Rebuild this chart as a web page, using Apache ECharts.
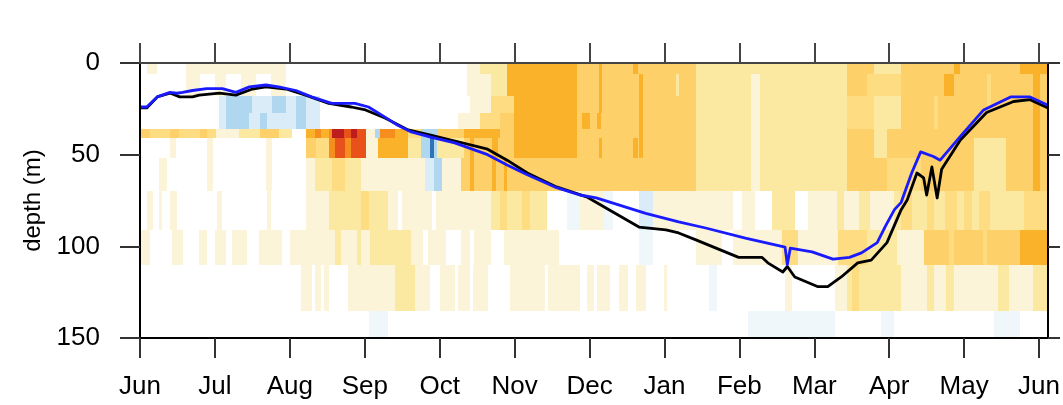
<!DOCTYPE html>
<html>
<head>
<meta charset="utf-8">
<script src="https://cdn.jsdelivr.net/npm/echarts@6/dist/echarts.min.js"></script>
<style>
html, body { margin: 0; padding: 0; background: #ffffff; }
#chart { width: 1063px; height: 405px; }
</style>
</head>
<body>
<div id="chart"></div>
<script>
// Time axis: months since 1 June (one month = 1 unit)
const monthLabels = ['Jun', 'Jul', 'Aug', 'Sep', 'Oct', 'Nov', 'Dec', 'Jan', 'Feb', 'Mar', 'Apr', 'May', 'Jun'];
const monthTicks = [0, 1, 2, 3, 4, 5, 6, 7, 8, 9, 10, 11, 12];
const timeEnd = 12.12;
const depthTicks = [0, 50, 100, 150];

// Depth bands (m) of the anomaly field
const bandEdges = [0, 6, 18, 27, 36, 41, 52, 70, 91, 110, 135, 150];

// Each band: [start month, end month, anomaly level]; later entries are drawn over earlier ones
const band_0_6 = [[0.10,0.23,1],[0.62,1.95,1],[4.37,4.54,1],[4.54,4.68,2],[4.68,4.90,2],[4.90,5.83,5],[5.83,7.42,4],[6.12,6.16,5],[6.58,6.65,5],[7.42,9.44,2],[9.44,9.80,4],[9.80,10.16,2],[10.16,10.86,4],[10.86,10.95,5],[10.95,11.75,4],[11.75,12.12,5]];
const band_6_18 = [[0.62,0.80,1],[1.00,1.15,1],[1.35,1.55,1],[1.75,1.95,1],[4.37,4.68,1],[4.68,4.90,2],[4.90,5.83,5],[5.83,7.42,4],[6.12,6.16,5],[6.66,6.72,5],[7.15,7.20,2],[7.42,9.44,2],[8.15,8.28,1],[9.44,9.71,4],[9.71,10.16,3],[10.16,10.73,4],[10.73,10.86,5],[10.86,12.12,4],[11.30,11.36,3],[11.92,12.01,5]];
const band_18_27 = [[1.06,2.40,-2],[1.15,1.50,-3],[1.76,1.95,-3],[2.08,2.21,-3],[4.41,4.68,1],[4.68,4.99,3],[4.99,5.83,5],[5.83,7.42,4],[6.12,6.16,5],[6.66,6.72,5],[7.42,9.44,2],[8.15,8.28,1],[9.44,9.80,3],[9.80,10.16,2],[10.16,12.12,4],[10.60,10.65,3],[11.30,11.36,3],[11.92,12.01,5]];
const band_27_36 = [[1.06,2.40,-2],[1.15,1.45,-3],[1.60,1.70,-3],[2.08,2.21,-3],[4.24,4.54,1],[4.54,4.81,3],[4.81,4.99,4],[4.99,5.83,5],[5.83,7.42,4],[5.90,6.00,5],[6.10,6.15,5],[6.66,6.72,5],[7.42,9.44,2],[8.15,8.28,1],[9.44,9.80,3],[9.80,10.16,2],[10.16,12.12,4],[10.60,10.65,3],[11.92,12.01,5]];
const band_36_41 = [[0,0.13,4],[0.13,0.40,3],[0.40,0.52,4],[0.52,0.80,3],[0.80,0.90,4],[0.90,1.02,3],[1.02,1.32,1],[1.32,1.60,2],[1.60,1.85,4],[1.85,2.03,2],[2.21,2.34,5],[2.34,2.42,6],[2.42,2.52,5],[2.52,2.56,6],[2.56,2.72,8],[2.72,2.82,7],[2.82,2.90,8],[2.90,3.01,7],[3.01,3.14,1],[3.14,3.21,-3],[3.21,3.40,6],[3.40,3.58,5],[3.58,3.75,3],[3.75,3.97,-3],[3.97,4.33,4],[4.33,4.81,5],[4.81,4.99,4],[4.99,5.83,5],[5.83,7.42,4],[6.66,6.72,5],[7.42,9.44,2],[8.15,8.28,1],[9.44,9.80,4],[9.80,9.97,2],[9.97,12.12,4],[11.92,12.01,5]];
const band_41_52 = [[0.40,0.48,1],[0.89,0.97,1],[1.68,1.76,1],[2.21,2.35,4],[2.35,2.52,3],[2.52,2.60,6],[2.60,2.74,7],[2.74,2.82,6],[2.82,3.01,7],[3.01,3.18,1],[3.18,3.58,5],[3.58,3.75,2],[3.75,3.87,-3],[3.87,3.93,-5],[3.93,3.97,-3],[3.97,4.33,2],[4.33,4.99,4],[4.40,4.46,5],[4.70,4.78,5],[4.99,5.83,5],[5.83,7.42,4],[6.12,6.16,5],[6.58,6.65,5],[6.66,6.72,5],[7.42,9.44,2],[8.15,8.28,1],[9.44,9.80,4],[9.80,9.97,2],[9.97,11.13,4],[11.13,11.56,2],[11.56,12.12,4],[11.92,12.01,5]];
const band_52_70 = [[0.26,0.36,1],[0.89,0.97,1],[1.68,1.76,1],[2.21,2.34,1],[2.34,2.56,2],[2.56,2.74,3],[2.74,2.95,2],[2.95,3.80,1],[3.80,3.93,-2],[3.93,4.03,-3],[4.03,4.28,1],[4.28,4.64,4],[4.40,4.46,5],[4.64,7.42,4],[4.70,4.75,5],[4.86,4.90,5],[7.42,9.44,2],[8.15,8.28,1],[9.44,9.97,4],[9.97,10.42,3],[10.42,11.13,4],[11.13,11.56,2],[11.56,12.12,4],[11.92,12.01,5]];
const band_70_91 = [[0.09,0.17,1],[0.26,0.30,1],[0.40,0.49,1],[1.03,1.10,1],[1.69,1.75,1],[2.21,2.52,1],[2.52,3.31,2],[2.95,3.05,3],[3.31,4.68,1],[3.45,3.50,0],[3.90,3.95,0],[4.68,5.43,2],[4.80,4.90,3],[5.10,5.20,3],[5.70,5.87,-1],[5.87,6.19,1],[6.19,6.32,-1],[6.66,6.85,-2],[6.85,7.91,1],[8.04,8.21,1],[8.44,8.74,2],[8.91,10.07,1],[9.30,9.40,2],[9.60,9.75,2],[10.07,12.12,2],[10.16,10.30,3],[10.51,10.60,3],[10.74,10.90,3],[11.00,11.10,3],[11.20,11.35,3],[11.80,12.12,3]];
const band_91_110 = [[0,0.13,1],[0.43,0.57,1],[0.79,0.89,1],[1.00,1.15,1],[1.23,1.43,1],[1.59,1.89,1],[2.00,3.07,1],[2.60,2.68,2],[2.90,2.95,2],[3.07,3.62,2],[3.62,3.78,1],[3.85,4.08,1],[4.28,4.41,1],[4.46,4.68,1],[4.86,5.59,1],[6.66,6.85,-1],[7.42,7.77,1],[7.91,8.57,1],[8.57,8.78,3],[8.78,9.31,1],[9.31,9.71,3],[9.71,10.11,2],[10.11,10.46,1],[10.46,11.75,4],[10.80,10.86,3],[11.25,11.30,3],[11.75,12.12,5]];
const band_110_135 = [[2.15,2.30,1],[2.34,2.42,1],[2.45,2.52,1],[2.78,3.40,1],[3.40,3.67,2],[3.67,3.87,1],[4.01,4.20,1],[4.25,4.40,1],[4.45,4.64,1],[4.94,5.40,1],[5.45,5.87,1],[5.96,6.06,1],[6.10,6.28,1],[6.40,6.52,1],[6.62,6.75,1],[7.00,7.04,1],[7.60,7.70,-1],[8.61,8.70,1],[9.27,9.44,1],[9.44,10.16,2],[9.50,9.60,3],[10.16,12.12,1],[10.50,10.60,2],[10.76,10.86,2],[11.45,11.60,2],[11.92,12.12,2]];
const band_135_150 = [[3.05,3.31,-1],[8.12,9.27,-1],[9.89,10.07,-1],[11.40,11.75,-1]];

// Mixed-layer depth estimates (month, depth m)
const mldBlue = [[0,24],[0.09,24],[0.23,18.5],[0.40,16],[0.49,16.5],[0.57,16],[0.70,15],[0.89,14],[1.10,14],[1.28,16],[1.46,13],[1.68,12],[1.85,13],[2.08,15],[2.29,18.5],[2.56,22],[2.87,22],[3.05,24],[3.27,29.5],[3.44,34],[3.62,37.6],[3.88,40.4],[4.20,43.6],[4.64,50],[4.90,55.6],[5.17,61],[5.56,68],[5.87,72],[6.09,73.6],[6.75,82],[7.19,86.7],[7.55,90],[8.08,95.5],[8.61,100.4],[8.64,110],[8.68,101],[8.97,103],[9.25,107],[9.47,106],[9.63,103.6],[9.84,98],[9.95,89],[10.07,80],[10.16,76],[10.30,60],[10.42,48.5],[10.59,51],[10.68,53],[10.95,40],[11.26,25.6],[11.62,18.5],[11.88,18.5],[12.12,23]];
const mldBlack = [[0,24.5],[0.09,24.5],[0.23,18.5],[0.40,16.4],[0.53,18.5],[0.70,18.5],[0.79,17.5],[1.06,16.4],[1.28,17.5],[1.50,14.2],[1.68,13],[1.95,14.2],[2.21,17.5],[2.52,22],[2.82,24],[3.01,25.6],[3.27,30],[3.58,36.5],[3.88,39.3],[4.15,42],[4.64,47],[4.90,53],[5.17,60],[5.56,67.6],[5.96,73],[6.26,80],[6.66,89.5],[7.02,91],[7.19,92.7],[7.42,96.5],[7.99,106],[8.30,106],[8.38,109],[8.58,114],[8.64,111],[8.74,116.7],[9.05,122],[9.18,122],[9.36,116.7],[9.58,109],[9.76,107.5],[9.97,98],[10.16,80],[10.24,74.7],[10.37,60],[10.46,62.7],[10.50,72],[10.57,56.7],[10.64,73.6],[10.70,58],[10.95,42],[11.30,27],[11.66,21],[11.88,20],[12.12,24.5]];

// Diverging palette: negative (blue) through white to positive (yellow-orange-red)
const levelColors = {
  '-5': '#2f72b6', '-4': '#6aaadc', '-3': '#b0d7f0', '-2': '#d9ecf8', '-1': '#f0f7fb',
  '0': '#ffffff', '1': '#fbf4d8', '2': '#fbe9a2', '3': '#fddc82', '4': '#fdd06a',
  '5': '#fbb22b', '6': '#f68d1f', '7': '#e8521a', '8': '#bd1e1d'
};

const bands = [band_0_6, band_6_18, band_18_27, band_27_36, band_36_41, band_41_52,
  band_52_70, band_70_91, band_91_110, band_110_135, band_135_150];

const cells = [];
bands.forEach((segs, i) => {
  segs.forEach(s => cells.push([s[0], s[1], bandEdges[i], bandEdges[i + 1], s[2]]));
});

const FONT = "'Liberation Sans', Arial, Helvetica, sans-serif";

function renderCell(params, api) {
  const a = api.coord([api.value(0), api.value(2)]);
  const b = api.coord([api.value(1), api.value(3)]);
  const x0 = Math.round(Math.min(a[0], b[0]));
  const x1 = Math.round(Math.max(a[0], b[0]));
  const y0 = Math.round(Math.min(a[1], b[1]));
  const y1 = Math.round(Math.max(a[1], b[1]));
  const cs = params.coordSys;
  const shape = echarts.graphic.clipRectByRect(
    { x: x0, y: y0, width: Math.max(x1 - x0, 1), height: y1 - y0 },
    { x: cs.x, y: cs.y, width: cs.width, height: cs.height }
  );
  if (!shape) return null;
  return {
    type: 'rect',
    shape: shape,
    style: { fill: levelColors[String(api.value(4))] || '#ffffff' }
  };
}

const chart = echarts.init(document.getElementById('chart'), null, { renderer: 'canvas' });

const xCommon = {
  type: 'value', min: 0, max: timeEnd,
  splitLine: { show: false }
};
const yCommon = {
  type: 'value', min: 0, max: 150, interval: 50, inverse: true,
  splitLine: { show: false }
};

chart.setOption({
  animation: false,
  backgroundColor: '#ffffff',
  grid: { left: 140, right: 8, top: 63, bottom: 67, containLabel: false },
  xAxis: [
    Object.assign({}, xCommon, {
      position: 'bottom', z: 10,
      axisLine: { show: true, onZero: false, lineStyle: { color: '#000000', width: 2 } },
      axisTick: { show: true, inside: false, length: 20, customValues: monthTicks, lineStyle: { color: '#333333', width: 2 } },
      axisLabel: {
        show: true, customValues: monthTicks, margin: 36,
        fontSize: 26, color: '#000000', fontFamily: FONT,
        formatter: v => monthLabels[Math.round(v)]
      }
    }),
    Object.assign({}, xCommon, {
      position: 'top', z: 10,
      axisLine: { show: true, onZero: false, lineStyle: { color: '#444444', width: 2 } },
      axisTick: { show: true, inside: false, length: 20, customValues: monthTicks, lineStyle: { color: '#444444', width: 2 } },
      axisLabel: { show: false }
    })
  ],
  yAxis: [
    Object.assign({}, yCommon, {
      position: 'left', z: 10,
      name: 'depth (m)', nameLocation: 'middle', nameGap: 95, nameRotate: 90,
      nameTextStyle: { fontSize: 24, color: '#000000', fontFamily: FONT },
      axisLine: { show: true, onZero: false, lineStyle: { color: '#000000', width: 2 } },
      axisTick: { show: true, inside: false, length: 20, lineStyle: { color: '#333333', width: 2 } },
      axisLabel: { show: true, margin: 40, fontSize: 26, color: '#000000', fontFamily: FONT,
        formatter: v => (depthTicks.indexOf(v) >= 0 ? String(v) : '') }
    }),
    Object.assign({}, yCommon, {
      position: 'right', z: 10,
      axisLine: { show: true, onZero: false, lineStyle: { color: '#000000', width: 2 } },
      axisTick: { show: true, inside: false, length: 12, lineStyle: { color: '#333333', width: 2 } },
      axisLabel: { show: false }
    })
  ],
  series: [
    {
      type: 'custom', name: 'anomaly', renderItem: renderCell,
      xAxisIndex: 0, yAxisIndex: 0,
      encode: { x: [0, 1], y: [2, 3] },
      data: cells, z: 1, silent: true
    },
    {
      type: 'line', name: 'mld black', data: mldBlack, xAxisIndex: 0, yAxisIndex: 0,
      showSymbol: false, smooth: false, z: 3,
      lineStyle: { color: '#000000', width: 2.8, join: 'round' }
    },
    {
      type: 'line', name: 'mld blue', data: mldBlue, xAxisIndex: 0, yAxisIndex: 0,
      showSymbol: false, smooth: false, z: 4,
      lineStyle: { color: '#1a1aff', width: 2.8, join: 'round' }
    }
  ]
});
</script>
</body>
</html>
